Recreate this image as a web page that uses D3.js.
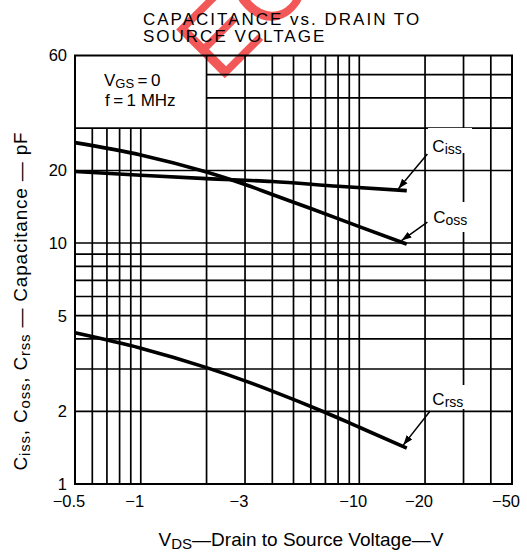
<!DOCTYPE html>
<html><head><meta charset="utf-8">
<script src="https://cdn.jsdelivr.net/npm/d3@7"></script>
<style>
html,body{margin:0;padding:0;background:#fff;}
svg{display:block;font-family:"Liberation Sans",Arial,Helvetica,sans-serif;}
</style></head>
<body>
<svg id="chart" width="527" height="556"></svg>
<script>
// ---- data ----
const xTickValues = [0.5, 1, 3, 10, 20, 50];
const xTickLabels = ["\u22120.5", "\u22121", "\u22123", "\u221210", "\u221220", "\u221250"];
const yTickValues = [1, 2, 5, 10, 20, 60];
const yTickLabels = ["1", "2", "5", "10", "20", "60"];
const xGridFull = [2, 3, 4, 5, 6, 7, 8, 9, 10, 20, 30, 40];
const xGridLower = [0.6, 0.7, 0.8, 0.9, 1];
const yGridFull = [2, 3, 4, 5, 6, 7, 8, 9, 10, 20, 30];
const yGridRight = [40, 50];

const vdsCiss = [0.5, 1, 2, 4, 8, 16.5];
const ciss    = [19.8, 19.1, 18.5, 18.0, 17.2, 16.5];
const vdsCoss = [0.5, 1, 2, 3, 4, 6, 10, 16.5];
const coss    = [26.1, 23.2, 19.7, 17.5, 15.9, 13.9, 11.7, 9.9];
const vdsCrss = [0.5, 1, 2, 3, 4, 7, 10, 16.5];
const crss    = [4.24, 3.66, 3.04, 2.68, 2.43, 1.98, 1.72, 1.41];

const seriesNames = ["Ciss", "Coss", "Crss"];
// annotation: label position, arrow start, arrow end (data units V, pF)
const labelPos   = [[21.6, 23.9], [21.8, 12.1], [21.6, 2.13]];
const arrowStart = [[20.5, 23.4], [20.5, 12.2], [21.1, 2.01]];
const arrowEnd   = [[15.1, 16.8], [15.6, 10.24], [15.9, 1.45]];

// ---- layout ----
const svg = d3.select("#chart");
const L = 75, R = 512, T = 55.5, B = 484;
const x = d3.scaleLog().domain([0.5, 50]).range([L, R]);
const y = d3.scaleLog().domain([1, 60]).range([B, T]);

// watermark (partially visible stamp)
svg.append("text")
  .attr("transform", "translate(219,84) rotate(-45)")
  .attr("font-size", 100)
  .attr("fill", "#f23c3c")
  .attr("opacity", 0.85)
  .text("EC");

// title
const title = svg.append("text").attr("font-size", 17).attr("letter-spacing", 2).attr("fill", "#000");
title.append("tspan").attr("x", 143).attr("y", 25).text("CAPACITANCE vs. DRAIN TO");
title.append("tspan").attr("x", 143).attr("y", 41.5).text("SOURCE VOLTAGE");

const g = svg.append("g");
const gridStyle = sel => sel.attr("stroke", "#000").attr("stroke-width", 1.7).attr("fill", "none");

// vertical grid
g.selectAll(".vf").data(xGridFull).join("line")
  .attr("x1", d => x(d)).attr("x2", d => x(d)).attr("y1", T).attr("y2", B).call(gridStyle);
g.selectAll(".vl").data(xGridLower).join("line")
  .attr("x1", d => x(d)).attr("x2", d => x(d)).attr("y1", y(30)).attr("y2", B).call(gridStyle);
// horizontal grid
g.selectAll(".hf").data(yGridFull).join("line")
  .attr("y1", d => y(d)).attr("y2", d => y(d)).attr("x1", L).attr("x2", R).call(gridStyle);
g.selectAll(".hr").data(yGridRight).join("line")
  .attr("y1", d => y(d)).attr("y2", d => y(d)).attr("x1", x(2)).attr("x2", R).call(gridStyle);
// border
g.append("rect").attr("x", L).attr("y", T).attr("width", R - L).attr("height", B - T)
  .attr("fill", "none").attr("stroke", "#000").attr("stroke-width", 2);

// legend box text
const t1 = svg.append("text").attr("x", 104).attr("y", 86).attr("font-size", 17);
t1.append("tspan").text("V");
t1.append("tspan").attr("font-size", 13).attr("dy", 2).text("GS");
t1.append("tspan").attr("dy", -2).text("\u2009=\u20090");
svg.append("text").attr("x", 105).attr("y", 106).attr("font-size", 17).text("f\u2009=\u20091 MHz");

// white backgrounds for curve labels
const lblBg = [[428, 128, 44, 25], [428, 202, 46, 30], [428, 385, 44, 24]];
svg.selectAll(".bg").data(lblBg).join("rect")
  .attr("x", d => d[0]).attr("y", d => d[1]).attr("width", d => d[2]).attr("height", d => d[3])
  .attr("fill", "#fff");

// curves
const line = d3.line().x(d => x(d[0])).y(d => y(d[1])).curve(d3.curveMonotoneX);
const series = [d3.zip(vdsCiss, ciss), d3.zip(vdsCoss, coss), d3.zip(vdsCrss, crss)];
svg.selectAll(".curve").data(series).join("path")
  .attr("d", line).attr("fill", "none").attr("stroke", "#000").attr("stroke-width", 3.6)
  .attr("stroke-linecap", "butt");

// arrows
svg.append("defs").append("marker").attr("id", "ah")
  .attr("viewBox", "0 0 10 10").attr("refX", 10).attr("refY", 5)
  .attr("markerWidth", 10).attr("markerHeight", 10).attr("markerUnits", "userSpaceOnUse")
  .attr("orient", "auto")
  .append("path").attr("d", "M0,1.5 L10,5 L0,8.5 Z").attr("fill", "#000");
svg.selectAll(".arr").data(d3.range(3)).join("line")
  .attr("x1", i => x(arrowStart[i][0])).attr("y1", i => y(arrowStart[i][1]))
  .attr("x2", i => x(arrowEnd[i][0])).attr("y2", i => y(arrowEnd[i][1]))
  .attr("stroke", "#000").attr("stroke-width", 1.5).attr("marker-end", "url(#ah)");

// curve labels
seriesNames.forEach((n, i) => {
  const t = svg.append("text").attr("x", x(labelPos[i][0])).attr("y", y(labelPos[i][1])).attr("font-size", 17);
  t.append("tspan").text(n[0]);
  t.append("tspan").attr("font-size", 14).attr("dy", 2).text(n.slice(1));
});

// axes tick labels
svg.selectAll(".xt").data(xTickValues).join("text")
  .attr("x", d => x(d) - 6).attr("y", 507).attr("text-anchor", "middle").attr("font-size", 16.5)
  .text((d, i) => xTickLabels[i]);
svg.selectAll(".yt").data(yTickValues).join("text")
  .attr("x", 67).attr("y", d => y(d)).attr("dy", "0.36em").attr("text-anchor", "end").attr("font-size", 16.5)
  .text((d, i) => yTickLabels[i]);

// x axis title
const xt = svg.append("text").attr("x", 301).attr("y", 546).attr("text-anchor", "middle").attr("font-size", 19);
xt.append("tspan").text("V");
xt.append("tspan").attr("font-size", 15).attr("dy", 3).text("DS");
xt.append("tspan").attr("dy", -3).text("\u2014Drain to Source Voltage\u2014V");

// y axis title
const yt = svg.append("text").attr("transform", "translate(27,301) rotate(-90)")
  .attr("text-anchor", "middle").attr("font-size", 19).attr("letter-spacing", 0.8);
[["C", "iss", ", "], ["C", "oss", ", "], ["C", "rss", " \u2014 Capacitance \u2014 pF"]].forEach(p => {
  yt.append("tspan").text(p[0]);
  yt.append("tspan").attr("font-size", 15).attr("dy", 3).text(p[1]);
  yt.append("tspan").attr("dy", -3).text(p[2]);
});
</script>
</body></html>
